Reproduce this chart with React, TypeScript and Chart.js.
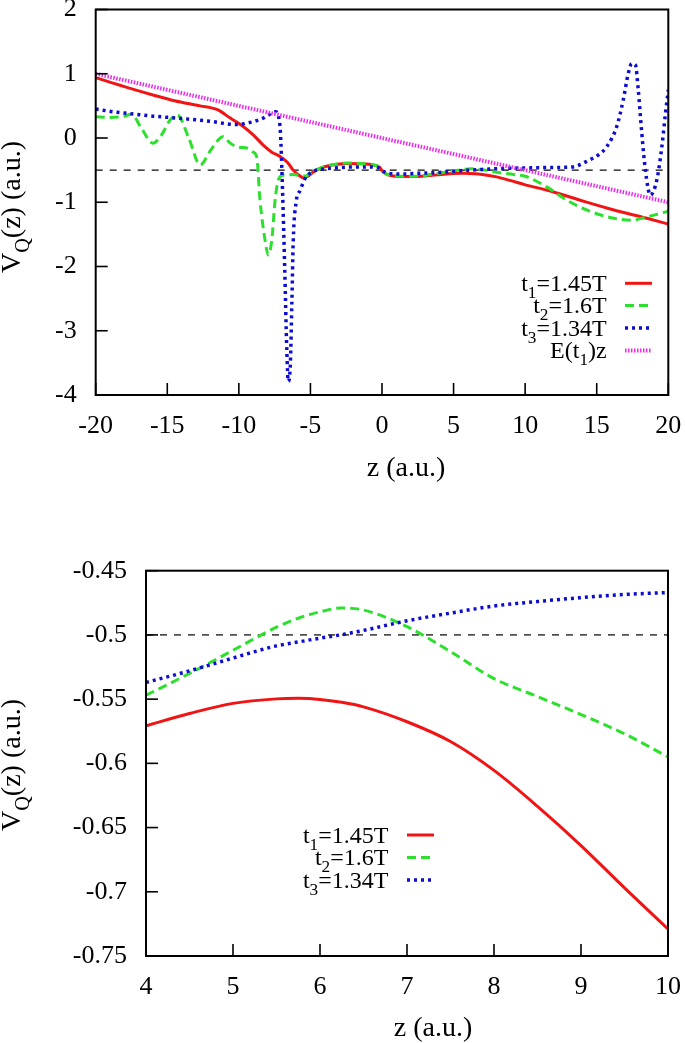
import React, { useEffect, useRef } from "react";
import { Chart, registerables } from "chart.js";

Chart.register(...registerables);

// ---------------- Top panel data (z from -20 to 20) ----------------
const topZ_t1 = [-20, -18, -16, -14.5, -12.7, -11.5, -10.6, -9.7, -9, -8.3, -7.7, -7.1, -6.6, -6.2, -5.8, -5.5, -5.2, -4.8, -4.3, -3.5, -2.5, -1.5, -0.6, -0.2, 0.1, 0.5, 1.5, 2.5, 3.5, 4, 5, 5.7, 6.5, 7, 8, 9, 10, 11.5, 13.8, 16.2, 18.5, 20];
const topV_t1 = [0.94, 0.8, 0.67, 0.58, 0.5, 0.44, 0.31, 0.18, 0.05, -0.11, -0.22, -0.29, -0.38, -0.5, -0.58, -0.62, -0.6, -0.53, -0.47, -0.42, -0.395, -0.4, -0.42, -0.45, -0.53, -0.58, -0.6, -0.6, -0.58, -0.571, -0.553, -0.549, -0.556, -0.568, -0.605, -0.664, -0.729, -0.81, -0.965, -1.12, -1.25, -1.34];

const topZ_t2 = [-20, -19, -18, -17.5, -16.8, -16, -15.4, -14.8, -14.3, -13.5, -12.7, -12, -11.1, -10.6, -10.1, -9.4, -9.0, -8.75, -8.52, -8.17, -7.94, -7.7, -7.47, -7.24, -6.9, -6.2, -5.5, -5.2, -4.8, -4.3, -3.5, -2.5, -1.5, -0.6, -0.2, 0.1, 0.5, 1.5, 2.5, 3.5, 4, 4.5, 5, 5.5, 6, 6.25, 6.5, 7, 7.5, 8, 8.5, 9, 9.5, 10, 11.5, 12.9, 14.3, 16.2, 17.5, 18.3, 19, 20];
const topV_t2 = [0.33, 0.32, 0.34, 0.37, 0.15, -0.08, 0.05, 0.28, 0.36, 0.0, -0.42, -0.2, 0.02, -0.08, -0.14, -0.16, -0.22, -0.3, -0.97, -1.59, -1.82, -1.59, -0.97, -0.65, -0.58, -0.57, -0.59, -0.58, -0.52, -0.47, -0.42, -0.39, -0.395, -0.42, -0.45, -0.53, -0.575, -0.595, -0.595, -0.565, -0.547, -0.53, -0.512, -0.494, -0.482, -0.479, -0.481, -0.494, -0.513, -0.534, -0.548, -0.562, -0.577, -0.595, -0.76, -0.965, -1.12, -1.25, -1.28, -1.24, -1.2, -1.14];

const topZ_t3 = [-20, -18.5, -17.6, -16, -14.3, -12, -10.2, -9.45, -8.3, -7.75, -7.45, -7.25, -7.1, -6.95, -6.8, -6.65, -6.55, -6.4, -6.3, -6.2, -6.0, -5.7, -5.4, -4.8, -4.0, -3.4, -2.5, -1.3, -0.3, 0.1, 0.5, 1.5, 2.5, 3.5, 4, 4.5, 5, 5.5, 6, 6.5, 7, 7.5, 8, 8.5, 9, 9.5, 10, 11.5, 13.3, 14.5, 15.2, 15.7, 16.4, 16.85, 17.2, 17.45, 17.7, 17.9, 18.15, 18.4, 18.75, 19.2, 19.55, 19.8, 20];
const topV_t3 = [0.45, 0.4, 0.38, 0.34, 0.31, 0.26, 0.21, 0.23, 0.31, 0.38, 0.41, 0.35, 0.1, -0.8, -2.0, -3.3, -3.79, -3.5, -2.6, -1.6, -1.0, -0.81, -0.64, -0.52, -0.48, -0.47, -0.455, -0.45, -0.46, -0.52, -0.55, -0.56, -0.55, -0.54, -0.537, -0.528, -0.518, -0.508, -0.501, -0.496, -0.489, -0.483, -0.4775, -0.474, -0.471, -0.4685, -0.467, -0.46, -0.45, -0.34, -0.25, -0.135, 0.18, 0.59, 1.0, 1.16, 1.14, 0.75, 0.07, -0.5, -0.89, -0.65, -0.135, 0.38, 0.75];

const topZ_E = [-20, 20];
const topV_E = [1, -1];

const topRefZ = [-20, 20];
const refLevel = -0.5;

const topXTicks = [-20, -15, -10, -5, 0, 5, 10, 15, 20];
const topYTicks = [-4, -3, -2, -1, 0, 1, 2];
const topLegend = ["t_1=1.45T", "t_2=1.6T", "t_3=1.34T", "E(t_1)z"];

// ---------------- Bottom panel data (zoom z from 4 to 10) ----------------
const botZ = [4, 4.5, 5, 5.5, 5.75, 6, 6.25, 6.5, 7, 7.5, 8, 8.5, 9, 9.5, 10];
const botV_t1 = [-0.5707, -0.5612, -0.5533, -0.5498, -0.5494, -0.5502, -0.5525, -0.556, -0.5676, -0.583, -0.6055, -0.6335, -0.664, -0.697, -0.729];
const botV_t2 = [-0.547, -0.53, -0.512, -0.494, -0.487, -0.482, -0.479, -0.4806, -0.4936, -0.513, -0.534, -0.548, -0.562, -0.577, -0.595];
const botV_t3 = [-0.537, -0.528, -0.518, -0.5085, -0.5055, -0.5025, -0.4998, -0.4965, -0.489, -0.483, -0.4775, -0.474, -0.471, -0.4685, -0.467];
const botRefZ = [4, 10];

const botXTicks = [4, 5, 6, 7, 8, 9, 10];
const botYTicks = [-0.75, -0.7, -0.65, -0.6, -0.55, -0.5, -0.45];
const botLegend = ["t_1=1.45T", "t_2=1.6T", "t_3=1.34T"];

const xTitle = "z (a.u.)";
const yTitle = "V_Q(z) (a.u.)";

// ---------------- styles ----------------
const FONT = "'Liberation Serif', 'Times New Roman', Times, serif";
const TITLE_SIZE = 28;
const TICK_SIZE = 26;
const LEGEND_SIZE = 24;
const RED = "#f01414";
const GREEN = "#2de02d";
const BLUE = "#0c0cd2";
const MAGENTA = "#ee28ee";

const styleT1 = { color: RED, width: 3, dash: [] as number[] };
const styleT2 = { color: GREEN, width: 3, dash: [9, 5] };
const styleT3 = { color: BLUE, width: 3.5, dash: [3, 4] };
const styleE = { color: MAGENTA, width: 4, dash: [1.5, 1.5] };

const pts = (xs: number[], ys: number[]) => xs.map((x, i) => ({ x, y: ys[i] }));

type Part = { t: string; sub: boolean };
function parseRich(s: string): Part[] {
  const parts: Part[] = [];
  let buf = "";
  for (let i = 0; i < s.length; i++) {
    if (s[i] === "_" && i + 1 < s.length) {
      if (buf) parts.push({ t: buf, sub: false });
      buf = "";
      parts.push({ t: s[i + 1], sub: true });
      i++;
    } else buf += s[i];
  }
  if (buf) parts.push({ t: buf, sub: false });
  return parts;
}

function drawRich(ctx: CanvasRenderingContext2D, s: string, x: number, y: number, size: number, align: "left" | "right" | "center") {
  const parts = parseRich(s);
  const subSize = size * 0.72;
  const widths = parts.map((p) => {
    ctx.font = `${p.sub ? subSize : size}px ${FONT}`;
    return ctx.measureText(p.t).width;
  });
  const total = widths.reduce((a, b) => a + b, 0);
  let cx = align === "left" ? x : align === "right" ? x - total : x - total / 2;
  ctx.textAlign = "left";
  ctx.textBaseline = "alphabetic";
  parts.forEach((p, i) => {
    ctx.font = `${p.sub ? subSize : size}px ${FONT}`;
    ctx.fillText(p.t, cx, y + (p.sub ? size * 0.3 : 0));
    cx += widths[i];
  });
}

type Style = { color: string; width: number; dash: number[] };
type Overlay = {
  xTitle: { x: number; y: number };
  yTitle: { x: number; y: number };
  legend: { right: number; x1: number; x2: number; rows: number[]; labels: string[]; styles: Style[] };
};

function overlayPlugin(o: Overlay) {
  return {
    id: "gnuplotOverlay",
    afterDraw(chart: any) {
      const { ctx, chartArea: a, scales } = chart;
      ctx.save();
      ctx.strokeStyle = "#000";
      ctx.lineWidth = 1.6;
      ctx.setLineDash([]);
      // inward ticks
      scales.x.ticks.forEach((t: any) => {
        const px = scales.x.getPixelForValue(t.value);
        ctx.beginPath();
        ctx.moveTo(px, a.bottom);
        ctx.lineTo(px, a.bottom - 12);
        ctx.stroke();
      });
      scales.y.ticks.forEach((t: any) => {
        const py = scales.y.getPixelForValue(t.value);
        ctx.beginPath();
        ctx.moveTo(a.left, py);
        ctx.lineTo(a.left + 12, py);
        ctx.stroke();
      });
      // frame
      ctx.lineWidth = 2;
      ctx.strokeRect(a.left, a.top, a.right - a.left, a.bottom - a.top);
      // titles
      ctx.fillStyle = "#000";
      drawRich(ctx, xTitle, o.xTitle.x, o.xTitle.y + TITLE_SIZE * 0.3, TITLE_SIZE, "center");
      ctx.save();
      ctx.translate(o.yTitle.x, o.yTitle.y);
      ctx.rotate(-Math.PI / 2);
      drawRich(ctx, yTitle, 0, TITLE_SIZE * 0.3, TITLE_SIZE, "center");
      ctx.restore();
      // legend
      const L = o.legend;
      L.labels.forEach((lab, i) => {
        const y = L.rows[i];
        ctx.fillStyle = "#000";
        drawRich(ctx, lab, L.right, y + LEGEND_SIZE * 0.32, LEGEND_SIZE, "right");
        const st = L.styles[i];
        ctx.strokeStyle = st.color;
        ctx.lineWidth = st.width;
        ctx.setLineDash(st.dash);
        ctx.beginPath();
        ctx.moveTo(L.x1, y);
        ctx.lineTo(L.x2, y);
        ctx.stroke();
      });
      ctx.restore();
    },
  };
}

function lineDs(label: string, data: any[], st: Style, order: number) {
  return {
    label,
    data,
    borderColor: st.color,
    borderWidth: st.width,
    borderDash: st.dash,
    borderCapStyle: "butt",
    pointRadius: 0,
    fill: false,
    cubicInterpolationMode: "monotone",
    order,
  };
}

function refDs(xs: number[]) {
  return {
    label: "ref",
    data: xs.map((x) => ({ x, y: refLevel })),
    borderColor: "#000",
    borderWidth: 1.2,
    borderDash: [7, 7],
    pointRadius: 0,
    fill: false,
    order: 10,
  };
}

function scaleOpts(min: number, max: number, ticks: number[], axis: "x" | "y", size: number, pad: number) {
  return {
    type: "linear",
    min,
    max,
    afterBuildTicks: (s: any) => {
      s.ticks = ticks.map((v) => ({ value: v }));
    },
    afterFit: (s: any) => {
      if (axis === "x") s.height = size;
      else s.width = size;
      s.paddingTop = 0;
      s.paddingBottom = 0;
      s.paddingLeft = 0;
      s.paddingRight = 0;
    },
    grid: { display: false, drawTicks: false },
    border: { display: false },
    ticks: {
      color: "#000",
      padding: pad,
      font: { family: FONT, size: TICK_SIZE },
      maxRotation: 0,
      autoSkip: false,
      callback: (v: number) => String(Number(v.toFixed(2))),
    },
  };
}

function makeTopConfig(): any {
  return {
    type: "line",
    data: {
      datasets: [
        refDs(topRefZ),
        lineDs(topLegend[0], pts(topZ_t1, topV_t1), styleT1, 4),
        lineDs(topLegend[1], pts(topZ_t2, topV_t2), styleT2, 3),
        lineDs(topLegend[2], pts(topZ_t3, topV_t3), styleT3, 2),
        lineDs(topLegend[3], pts(topZ_E, topV_E), styleE, 1),
      ],
    },
    options: {
      responsive: false,
      animation: false,
      events: [],
      layout: { padding: { top: 9.5, right: 16.7, left: 0, bottom: 0 } },
      plugins: { legend: { display: false }, tooltip: { enabled: false } },
      scales: {
        x: scaleOpts(-20, 20, topXTicks, "x", 125, 16),
        y: scaleOpts(-4, 2, topYTicks, "y", 95.7, 19),
      },
    },
    plugins: [
      overlayPlugin({
        xTitle: { x: 406, y: 468 },
        yTitle: { x: 12, y: 207 },
        legend: {
          right: 606.7,
          x1: 625,
          x2: 652,
          rows: [283.3, 305.6, 328, 350.5],
          labels: topLegend,
          styles: [styleT1, styleT2, styleT3, styleE],
        },
      }),
    ],
  };
}

function makeBottomConfig(): any {
  return {
    type: "line",
    data: {
      datasets: [
        refDs(botRefZ),
        lineDs(botLegend[0], pts(botZ, botV_t1), styleT1, 4),
        lineDs(botLegend[1], pts(botZ, botV_t2), styleT2, 3),
        lineDs(botLegend[2], pts(botZ, botV_t3), styleT3, 2),
      ],
    },
    options: {
      responsive: false,
      animation: false,
      events: [],
      layout: { padding: { top: 50.7, right: 17, left: 0, bottom: 0 } },
      plugins: { legend: { display: false }, tooltip: { enabled: false } },
      scales: {
        x: scaleOpts(4, 10, botXTicks, "x", 87, 16),
        y: scaleOpts(-0.75, -0.45, botYTicks, "y", 146, 19),
      },
    },
    plugins: [
      overlayPlugin({
        xTitle: { x: 433, y: 508 },
        yTitle: { x: 12, y: 245 },
        legend: {
          right: 388.4,
          x1: 407,
          x2: 434,
          rows: [315, 337.5, 360],
          labels: botLegend,
          styles: [styleT1, styleT2, styleT3],
        },
      }),
    ],
  };
}

function Panel({ make, top, height }: { make: () => any; top: number; height: number }) {
  const ref = useRef<HTMLCanvasElement>(null);
  useEffect(() => {
    const chart = new Chart(ref.current as HTMLCanvasElement, make());
    return () => chart.destroy();
  }, []);
  return (
    <canvas
      ref={ref}
      width={685}
      height={height}
      style={{ position: "absolute", left: 0, top, width: 685, height, display: "block" }}
    />
  );
}

export default function App() {
  return (
    <div style={{ position: "absolute", left: 0, top: 0, width: 685, height: 1043, background: "#fff" }}>
      <Panel make={makeTopConfig} top={0} height={520} />
      <Panel make={makeBottomConfig} top={520} height={523} />
    </div>
  );
}
